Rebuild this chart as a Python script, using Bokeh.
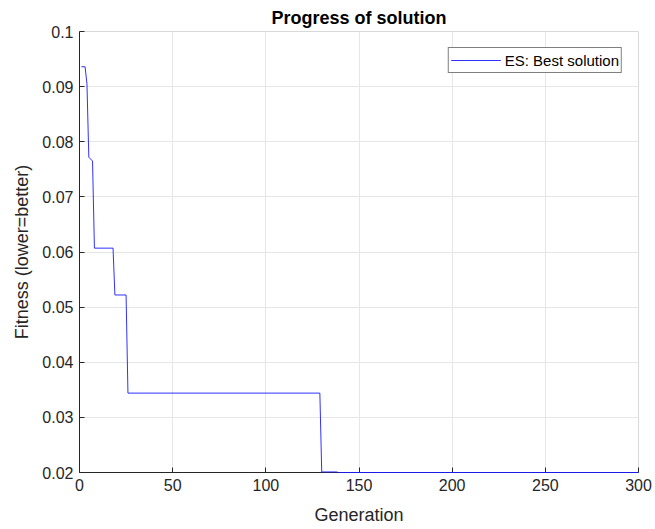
from bokeh.plotting import figure
from bokeh.models import FixedTicker, CustomJSTickFormatter, Range1d, Legend, LegendItem
from bokeh.embed import file_html
from bokeh.resources import INLINE

# Data (generation, best fitness)
generations = [1, 3, 4, 5, 7, 8, 18, 19, 25, 26, 129, 130, 138, 139, 300]
best_fitness = [0.0936, 0.0936, 0.0905, 0.0772, 0.0765, 0.0607, 0.0607, 0.0522,
                0.0522, 0.0344, 0.0344, 0.0201, 0.0201, 0.0200, 0.0200]
x_ticks = [0, 50, 100, 150, 200, 250, 300]
y_ticks = [0.02, 0.03, 0.04, 0.05, 0.06, 0.07, 0.08, 0.09, 0.1]

FONT = "Liberation Sans"
TXT = "#262626"

p = figure(width=655, height=529, output_backend="svg", toolbar_location=None,
           x_range=Range1d(0, 300), y_range=Range1d(0.02, 0.1),
           min_border_left=79, min_border_right=17, min_border_top=31, min_border_bottom=57,
           title="Progress of solution")

p.title.align = "center"
p.title.text_font = FONT
p.title.text_font_size = "18px"
p.title.text_font_style = "bold"
p.title.text_color = "#000000"
p.title.standoff = 7

r = p.line(generations, best_fitness, line_color="#1a1aff", line_width=0.9)
r.level = "overlay"

p.outline_line_color = "#d9d9d9"
p.xgrid.grid_line_color = "#e6e6e6"
p.ygrid.grid_line_color = "#e6e6e6"
p.xaxis.ticker = FixedTicker(ticks=x_ticks)
p.yaxis.ticker = FixedTicker(ticks=y_ticks)
p.yaxis.formatter = CustomJSTickFormatter(code="return String(Math.round(tick*100)/100);")

for ax in (p.xaxis[0], p.yaxis[0]):
    ax.axis_line_color = TXT
    ax.major_tick_line_color = TXT
    ax.major_tick_in = 5
    ax.major_tick_out = 0
    ax.minor_tick_line_color = None
    ax.major_label_text_font = FONT
    ax.major_label_text_font_size = "16px"
    ax.major_label_text_color = TXT
    ax.axis_label_text_font = FONT
    ax.axis_label_text_font_size = "18px"
    ax.axis_label_text_color = TXT
    ax.axis_label_text_font_style = "normal"

p.xaxis.axis_label = "Generation"
p.yaxis.axis_label = "Fitness (lower=better)"
p.xaxis.major_label_standoff = 6
p.yaxis.major_label_standoff = 6
p.xaxis.axis_label_standoff = 11
p.yaxis.axis_label_standoff = 7

legend = Legend(items=[LegendItem(label="ES: Best solution", renderers=[r])],
                location="top_right")
legend.margin = 16
legend.border_line_color = "#000000"
legend.border_line_width = 1
legend.background_fill_color = "#ffffff"
legend.background_fill_alpha = 1
legend.label_text_font = FONT
legend.label_text_font_size = "15px"
legend.label_text_color = "#000000"
legend.glyph_width = 50
legend.glyph_height = 20
legend.label_height = 20
legend.padding = 2
legend.label_standoff = 4
legend.spacing = 0
p.add_layout(legend, "center")

open("out.html", "w").write(file_html(p, INLINE))
